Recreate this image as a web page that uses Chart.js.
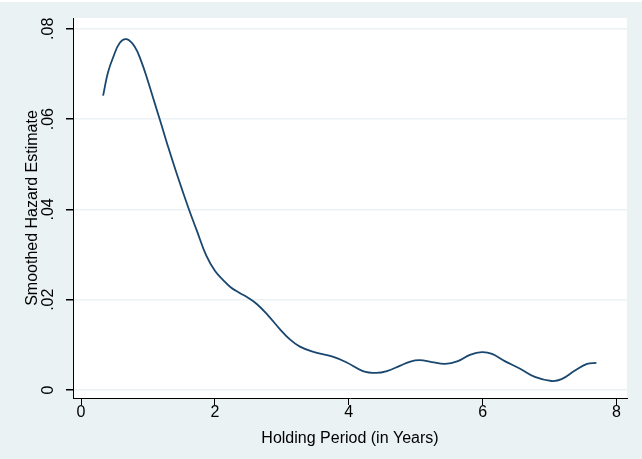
<!DOCTYPE html>
<html>
<head>
<meta charset="utf-8">
<script src="https://cdn.jsdelivr.net/npm/chart.js@4/dist/chart.umd.min.js"></script>
<style>
  html, body { margin: 0; padding: 0; background: #EAF2F3; }
  #wrap { width: 642px; height: 459px; position: relative; }
  canvas { display: block; }
</style>
</head>
<body>
<div id="wrap"><canvas id="c" width="642" height="459"></canvas></div>
<script>
// Smoothed hazard estimate by holding period (years)
const holdingYears = [
  0.33, 0.40, 0.48, 0.58, 0.68, 0.80, 0.90, 1.00, 1.10, 1.20,
  1.29, 1.45, 1.61, 1.73, 1.87, 2.00, 2.12, 2.24, 2.37, 2.50,
  2.63, 2.79, 2.97, 3.12, 3.27, 3.46, 3.76, 3.97, 4.21, 4.41,
  4.57, 4.77, 4.92, 5.06, 5.24, 5.44, 5.63, 5.81, 5.99, 6.14,
  6.33, 6.56, 6.78, 7.03, 7.18, 7.38, 7.56, 7.70
];
const hazard = [
  0.0652, 0.0702, 0.0737, 0.0769, 0.0777, 0.0761, 0.0728, 0.0684, 0.0636, 0.0588,
  0.0544, 0.0470, 0.0401, 0.0353, 0.0298, 0.0264, 0.0244, 0.0227, 0.0215, 0.0204,
  0.0190, 0.0166, 0.0135, 0.0112, 0.0096, 0.0085, 0.0074, 0.0061, 0.0042, 0.0038,
  0.0042, 0.0054, 0.0063, 0.0066, 0.0062, 0.0058, 0.0064, 0.0078, 0.0084, 0.0080,
  0.0064, 0.0047, 0.0029, 0.0020, 0.0024, 0.0043, 0.0058, 0.0060
];
const xTicks = [0, 2, 4, 6, 8];
const yTicks = [0, 0.02, 0.04, 0.06, 0.08];

const BG = '#EAF2F3';
const FONT = { family: '"Liberation Sans", Arial, sans-serif', size: 16 };

// paint the outer region and the white plot region
const backdrop = {
  id: 'backdrop',
  beforeDraw(chart) {
    const { ctx, chartArea: a, width, height } = chart;
    ctx.save();
    ctx.fillStyle = BG;
    ctx.fillRect(0, 0, width, height);
    ctx.fillStyle = '#FFFFFF';
    ctx.fillRect(0, 0, width, 2);
    ctx.fillRect(a.left, a.top, a.right - a.left, a.bottom - a.top);
    ctx.restore();
  }
};

new Chart(document.getElementById('c'), {
  type: 'line',
  data: {
    datasets: [{
      data: holdingYears.map((x, i) => ({ x, y: hazard[i] })),
      borderColor: '#1A476F',
      borderWidth: 1.8,
      pointRadius: 0,
      fill: false,
      tension: 0.4
    }]
  },
  options: {
    responsive: false,
    animation: false,
    layout: { padding: { left: 0, top: 18, right: 15, bottom: 0 } },
    plugins: { legend: { display: false }, tooltip: { enabled: false } },
    scales: {
      x: {
        type: 'linear',
        min: -0.12,
        max: 8.157,
        afterBuildTicks: s => { s.ticks = xTicks.map(v => ({ value: v })); },
        afterFit: s => { s.height = 61; },
        border: { display: true, color: '#000000', width: 1 },
        grid: { drawOnChartArea: false, drawTicks: true, tickLength: 7, tickColor: '#000000' },
        ticks: { color: '#000000', font: FONT, padding: -2, maxRotation: 0, callback: v => String(v) },
        title: { display: true, text: 'Holding Period (in Years)', color: '#000000', font: FONT, padding: { top: 0, bottom: 11 } }
      },
      y: {
        type: 'linear',
        min: -0.00177,
        max: 0.0824,
        afterBuildTicks: s => { s.ticks = yTicks.map(v => ({ value: v })); },
        afterFit: s => { s.width = 73; },
        border: { display: true, color: '#000000', width: 1 },
        grid: { color: BG, lineWidth: 1.5, drawTicks: true, tickLength: 7, tickColor: '#000000' },
        ticks: {
          color: '#000000', font: FONT, padding: 6, minRotation: 90, maxRotation: 90, crossAlign: 'center',
          callback: v => v === 0 ? '0' : v.toFixed(2).replace(/^0/, '')
        },
        title: { display: true, text: 'Smoothed Hazard Estimate', color: '#000000', font: FONT, padding: { top: 23, bottom: 0 } }
      }
    }
  },
  plugins: [backdrop]
});
</script>
</body>
</html>
